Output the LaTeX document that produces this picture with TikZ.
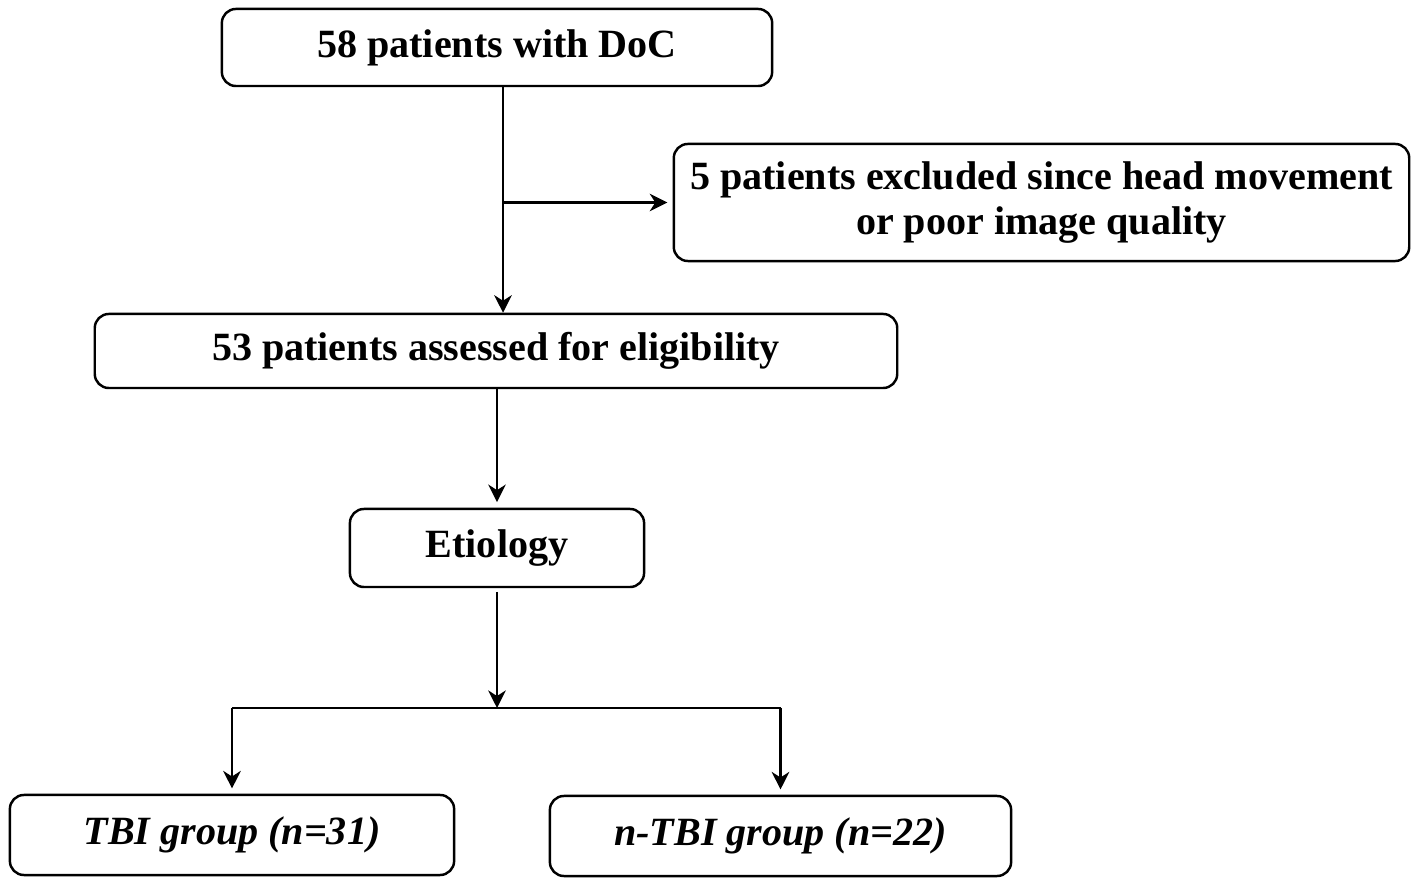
\documentclass[tikz,border=0pt]{standalone}
\usepackage{fontspec}
\setmainfont{Liberation Serif}
\usetikzlibrary{arrows.meta}

\begin{document}
\begin{tikzpicture}[x=0.01cm, y=-0.01cm,
    box/.style={draw, line width=0.7pt, rounded corners=4pt, align=center,
        font=\bfseries\fontsize{11.4}{12.6}\selectfont},
    arr/.style={-{Stealth[length=5pt, width=5pt, inset=1.6pt]}, line width=0.6pt}]

    \useasboundingbox (0,0) rectangle (1418,883);

    %% Flow of patients
    % Boxes
    \node[box, minimum width=5.5cm, minimum height=0.77cm] (doc) at (497,47.5) {58 patients with DoC};
    \node[box, minimum width=7.35cm, minimum height=1.17cm] (excl) at (1041.5,202.5)
        {5 patients excluded since head movement\\or poor image quality};
    \node[box, minimum width=8.02cm, minimum height=0.74cm] (elig) at (496,351) {53 patients assessed for eligibility};
    \node[box, minimum width=2.94cm, minimum height=0.78cm] (etio) at (497,548) {Etiology};
    \node[box, font=\bfseries\itshape\fontsize{11.4}{12.6}\selectfont,
        minimum width=4.44cm, minimum height=0.8cm] (tbi) at (232,835) {TBI group (n=31)};
    \node[box, font=\bfseries\itshape\fontsize{11.4}{12.6}\selectfont,
        minimum width=4.61cm, minimum height=0.8cm] (ntbi) at (780.5,836) {n-TBI group (n=22)};

    % Exclusion branch
    \coordinate (top) at ([xshift=0.06cm]doc.south);
    \draw[arr] (top) -- (top |- elig.north);
    \draw[arr, shorten >=1.5pt] (top |- excl.west) -- (excl.west);

    % Etiology
    \draw[arr, shorten >=1.6pt] (elig.south -| etio.north) -- (etio.north);

    % Split into groups
    \coordinate (fork) at (497,708);
    \draw[arr, shorten <=1pt] (etio.south) -- (fork);
    \draw[line width=0.7pt] (tbi.north |- fork) -- (ntbi.north |- fork);
    \draw[arr, shorten >=1.5pt] (tbi.north |- fork) -- (tbi.north);
    \draw[arr, shorten >=1.5pt] (ntbi.north |- fork) -- (ntbi.north);

\end{tikzpicture}
\end{document}
